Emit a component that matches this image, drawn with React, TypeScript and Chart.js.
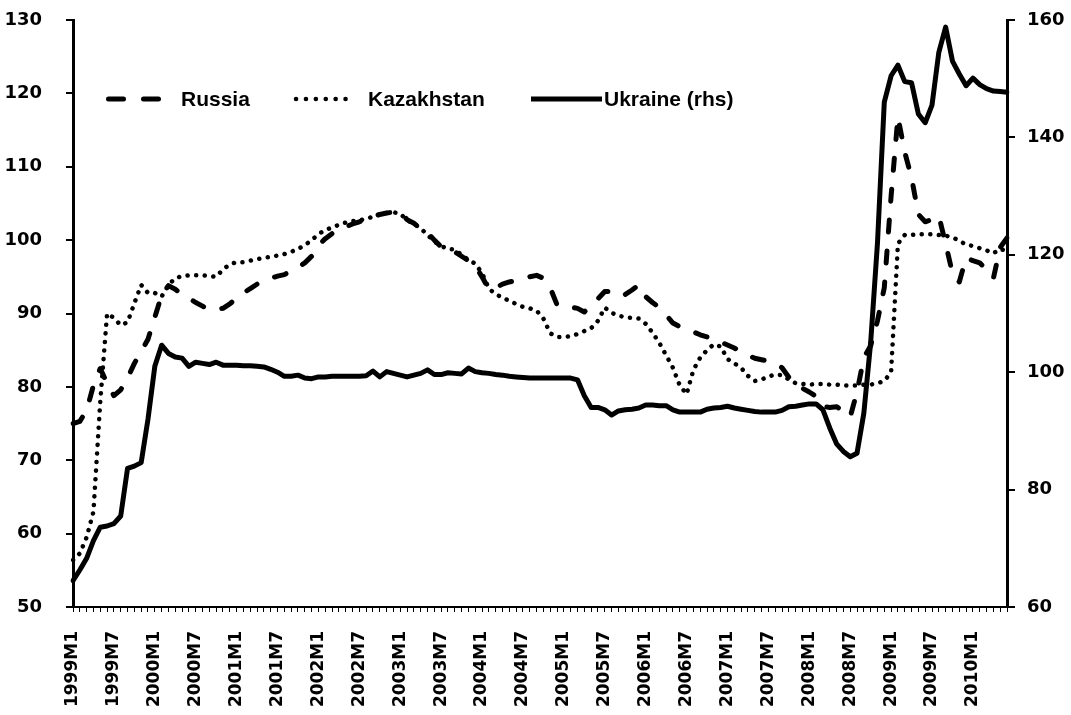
import React, { useEffect, useRef } from 'react';
import { Chart, registerables } from 'chart.js';

Chart.register(...registerables);

// Monthly categories 1999M1 .. 2010M6
const years = [1999, 2000, 2001, 2002, 2003, 2004, 2005, 2006, 2007, 2008, 2009, 2010];
const categories: string[] = [];
years.forEach((y) => {
  const last = y === 2010 ? 6 : 12;
  for (let m = 1; m <= last; m++) categories.push(`${y}M${m}`);
});

const tickLabels = [
  '1999M1', '1999M7', '2000M1', '2000M7', '2001M1', '2001M7', '2002M1', '2002M7',
  '2003M1', '2003M7', '2004M1', '2004M7', '2005M1', '2005M7', '2006M1', '2006M7',
  '2007M1', '2007M7', '2008M1', '2008M7', '2009M1', '2009M7', '2010M1',
];

const leftTicks = { min: 50, max: 130, step: 10 };
const rightTicks = { min: 60, max: 160, step: 20 };

const russia = [
  75.0, 75.3, 76.8, 80.2, 82.5, 80.5, 78.8, 79.6, 81.2, 83.2, 84.8, 86.5,
  89.5, 92.5, 93.8, 93.3, 92.6, 92.1, 91.5, 91.0, 90.5, 90.6, 90.7, 91.3,
  92.1, 92.8, 93.4, 94.0, 94.4, 94.8, 95.1, 95.3, 95.8, 96.3, 96.9, 97.8,
  99.3, 100.2, 100.9, 101.5, 101.8, 102.2, 102.5, 102.9, 103.2, 103.5, 103.7, 103.8,
  103.8, 102.8, 102.3, 101.6, 101.0, 100.0, 99.1, 98.8, 98.4, 97.8, 97.2, 96.5,
  95.0, 93.3, 93.5, 94.0, 94.3, 94.5, 94.7, 95.0, 95.2, 94.8, 93.5, 91.2,
  90.9, 90.9, 90.7, 90.2, 91.2, 92.0, 93.0, 93.0, 92.4, 92.6, 93.2, 93.9,
  92.3, 91.5, 90.8, 89.8, 88.7, 88.2, 87.8, 87.5, 87.1, 86.8, 86.5, 86.1,
  85.7, 85.3, 84.8, 84.3, 83.9, 83.7, 83.5, 83.2, 82.6, 81.3, 80.5, 79.8,
  79.3, 78.7, 77.3, 77.2, 77.3, 76.7, 75.9, 79.3, 84.0, 85.6, 89.0, 93.5,
  106.0, 116.8, 112.0, 108.5, 103.5, 102.5, 102.8, 103.3, 99.5, 95.5, 94.3, 97.6,
  97.2, 96.9, 96.0, 94.8, 99.0, 100.3,
];

const kazakhstan = [
  56.4, 57.3, 59.5, 63.0, 78.0, 90.0, 89.4, 88.4, 88.8, 91.4, 93.9, 92.8,
  92.8, 92.3, 93.9, 94.8, 95.1, 95.2, 95.2, 95.2, 95.1, 95.0, 96.0, 96.7,
  97.0, 97.0, 97.2, 97.4, 97.6, 97.7, 97.9, 98.1, 98.4, 98.8, 99.3, 100.0,
  100.8, 101.4, 101.7, 102.1, 102.4, 102.6, 102.7, 102.9, 103.2, 103.5, 103.7, 103.8,
  103.6, 102.7, 102.2, 101.6, 100.7, 99.8, 99.2, 98.8, 98.7, 98.0, 97.3, 96.8,
  95.5, 93.4, 92.6, 92.2, 91.7, 91.3, 90.9, 90.7, 90.4, 89.3, 87.3, 86.8,
  86.8, 86.9, 87.2, 87.6, 88.0, 89.0, 90.8, 90.1, 89.7, 89.5, 89.4, 89.3,
  88.6, 87.4, 86.0, 84.3, 82.6, 80.2, 79.0, 82.3, 84.0, 85.0, 85.8, 85.5,
  83.8, 83.2, 82.6, 81.5, 80.8, 81.0, 81.4, 81.7, 81.6, 81.0, 80.5, 80.4,
  80.3, 80.4, 80.4, 80.3, 80.3, 80.2, 80.2, 80.2, 80.3, 80.3, 80.5, 80.8,
  82.0, 99.5, 100.7, 100.7, 100.8, 100.8, 100.8, 100.7, 100.6, 100.4, 99.9, 99.4,
  99.2, 98.9, 98.6, 98.2, 98.8, 98.5,
];

const ukraine = [
  64.5, 66.3, 68.3, 71.3, 73.6, 73.8, 74.2, 75.5, 83.6, 84.0, 84.6, 92.0,
  101.0, 104.6, 103.2, 102.6, 102.4, 101.0, 101.7, 101.5, 101.3, 101.7, 101.2, 101.2,
  101.2, 101.1, 101.1, 101.0, 100.9, 100.5, 100.0, 99.3, 99.3, 99.5, 99.0, 98.9,
  99.2, 99.2, 99.3, 99.3, 99.3, 99.3, 99.3, 99.4, 100.2, 99.2, 100.1, 99.8,
  99.5, 99.2, 99.5, 99.8, 100.4, 99.6, 99.6, 99.9, 99.8, 99.7, 100.7, 100.1,
  99.9, 99.8, 99.6, 99.5, 99.3, 99.2, 99.1, 99.0, 99.0, 99.0, 99.0, 99.0,
  99.0, 99.0, 98.7, 96.0, 94.0, 94.0, 93.6, 92.7, 93.4, 93.6, 93.7, 93.9,
  94.4, 94.4, 94.3, 94.3, 93.6, 93.2, 93.2, 93.2, 93.2, 93.7, 93.9, 94.0,
  94.2, 93.9, 93.7, 93.5, 93.3, 93.2, 93.2, 93.2, 93.5, 94.1, 94.2, 94.4,
  94.6, 94.6, 93.6, 90.5, 87.8, 86.5, 85.6, 86.2, 93.0, 105.0, 122.0, 146.0,
  150.5, 152.3, 149.5, 149.3, 144.0, 142.5, 145.5, 154.5, 158.8, 153.0, 150.8, 148.8,
  150.1, 149.0, 148.3, 147.9, 147.8, 147.7,
];

const seriesNames = ['Russia', 'Kazakhstan', 'Ukraine (rhs)'];

const legendPlugin = {
  id: 'inlineLegend',
  afterDraw(chart: any) {
    const ctx = chart.ctx as CanvasRenderingContext2D;
    const y = 99;
    const names = chart.data.datasets.map((d: any) => d.label);
    ctx.save();
    ctx.strokeStyle = '#000';
    ctx.fillStyle = '#000';
    // Russia sample
    ctx.lineWidth = 5;
    ctx.lineCap = 'round';
    ctx.setLineDash([15, 20]);
    ctx.beginPath();
    ctx.moveTo(108.5, y);
    ctx.lineTo(158.5, y);
    ctx.stroke();
    // Kazakhstan sample
    ctx.lineWidth = 4.5;
    ctx.setLineDash([0.1, 9.8]);
    ctx.beginPath();
    ctx.moveTo(296, y);
    ctx.lineTo(354, y);
    ctx.stroke();
    // Ukraine sample
    ctx.setLineDash([]);
    ctx.lineCap = 'butt';
    ctx.lineWidth = 5;
    ctx.beginPath();
    ctx.moveTo(531, y);
    ctx.lineTo(602, y);
    ctx.stroke();
    ctx.font = 'bold 21px "Liberation Sans", Arial, sans-serif';
    ctx.textBaseline = 'middle';
    ctx.textAlign = 'left';
    ctx.fillText(names[0], 181, y + 1);
    ctx.fillText(names[1], 368, y + 1);
    ctx.fillText(names[2], 604, y + 1);
    ctx.restore();
  },
};

export default function App() {
  const ref = useRef<HTMLCanvasElement>(null);

  useEffect(() => {
    if (!ref.current) return;
    const chart = new Chart(ref.current, {
      type: 'line',
      data: {
        labels: categories,
        datasets: [
          {
            label: seriesNames[0],
            data: russia,
            yAxisID: 'y',
            borderColor: '#000',
            borderWidth: 5,
            borderDash: [12, 19],
            borderCapStyle: 'round',
            borderJoinStyle: 'round',
            pointRadius: 0,
            tension: 0,
            fill: false,
          },
          {
            label: seriesNames[1],
            data: kazakhstan,
            yAxisID: 'y',
            borderColor: '#000',
            borderWidth: 4.5,
            borderDash: [0.1, 8.5],
            borderCapStyle: 'round',
            borderJoinStyle: 'round',
            pointRadius: 0,
            tension: 0,
            fill: false,
          },
          {
            label: seriesNames[2],
            data: ukraine,
            yAxisID: 'y1',
            borderColor: '#000',
            borderWidth: 5,
            borderJoinStyle: 'round',
            borderCapStyle: 'round',
            pointRadius: 0,
            tension: 0,
            fill: false,
          },
        ],
      },
      options: {
        responsive: false,
        animation: false,
        devicePixelRatio: 1,
        layout: { padding: { top: 20, left: 0, right: 0, bottom: 0 } },
        plugins: {
          legend: { display: false },
          tooltip: { enabled: false },
        },
        scales: {
          x: {
            type: 'category',
            offset: false,
            grid: {
              display: true,
              drawOnChartArea: false,
              drawTicks: true,
              tickLength: 5,
              color: '#000',
              lineWidth: 1,
            },
            border: { display: true, color: '#000', width: 2 },
            ticks: {
              autoSkip: false,
              maxRotation: 90,
              minRotation: 90,
              padding: 19,
              color: '#000',
              font: { family: '"DejaVu Sans", sans-serif', weight: 'bold', size: 17 },
              callback: function (_v: any, i: number) {
                const c = categories[i];
                return tickLabels.includes(c) ? c : '';
              },
            },
            afterFit: (s: any) => {
              s.height = 108;
              s.paddingLeft = 0;
              s.paddingRight = 0;
            },
          },
          y: {
            position: 'left',
            min: leftTicks.min,
            max: leftTicks.max,
            grid: {
              drawOnChartArea: false,
              drawTicks: true,
              tickLength: 7,
              color: '#000',
              lineWidth: 2,
            },
            border: { display: true, color: '#000', width: 3 },
            ticks: {
              stepSize: leftTicks.step,
              padding: 24,
              color: '#000',
              font: { family: '"DejaVu Sans", sans-serif', weight: 'bold', size: 18 },
            },
            afterFit: (s: any) => {
              s.width = 73;
              s.paddingTop = 0;
              s.paddingBottom = 0;
            },
          },
          y1: {
            position: 'right',
            min: rightTicks.min,
            max: rightTicks.max,
            grid: {
              drawOnChartArea: false,
              drawTicks: true,
              tickLength: 8,
              color: '#000',
              lineWidth: 2,
            },
            border: { display: true, color: '#000', width: 3 },
            ticks: {
              stepSize: rightTicks.step,
              padding: 12,
              color: '#000',
              font: { family: '"DejaVu Sans", sans-serif', weight: 'bold', size: 18 },
            },
            afterFit: (s: any) => {
              s.width = 64;
              s.paddingTop = 0;
              s.paddingBottom = 0;
            },
          },
        },
      } as any,
      plugins: [legendPlugin],
    });
    return () => chart.destroy();
  }, []);

  return (
    <div style={{ position: 'absolute', left: 0, top: 0, width: 1071, height: 715, background: '#fff' }}>
      <canvas ref={ref} width={1071} height={715} style={{ display: 'block', width: 1071, height: 715 }} />
    </div>
  );
}
